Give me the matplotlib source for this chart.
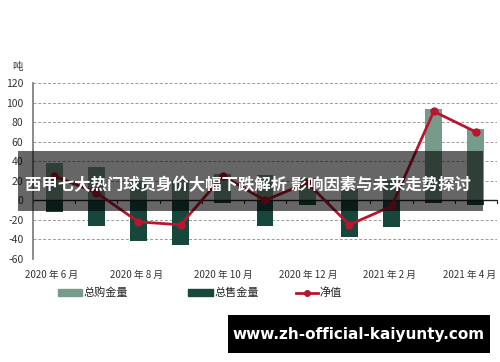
import matplotlib
matplotlib.use("Agg")
import matplotlib.pyplot as plt
import numpy as np
from matplotlib.patches import Rectangle, Patch
from matplotlib.lines import Line2D
from matplotlib.transforms import ScaledTranslation

plt.rcParams['font.family'] = ['Noto Sans CJK SC', 'DejaVu Sans']

months = ["2020年6月", "2020年7月", "2020年8月", "2020年9月", "2020年10月", "2020年11月",
          "2020年12月", "2021年1月", "2021年2月", "2021年3月", "2021年4月"]
purchase = [38, 34, 20, 21, 27, 26, 23, 12, 21, 93, 73]
sales = [-12, -26, -42, -46, -3, -26, -5, -37, -27, -3, -5]
net = [25, 8, -22, -25, 25, 0, 18, -25, -6, 91, 70]
tick_labels = ["2020 年 6 月", "2020 年 8 月", "2020 年 10 月", "2020 年 12 月", "2021 年 2 月", "2021 年 4 月"]
yticks = [-60, -40, -20, 0, 20, 40, 60, 80, 100, 120]
legend_labels = ["总购金量", "总售金量", "净值"]

c_light = "#779b8b"
c_dark = "#17473a"
c_line = "#b8162e"

fig = plt.figure(figsize=(5, 3.62), dpi=100)
ax = fig.add_axes([0.066, 0.2845, 0.928, 0.486])
x = np.arange(len(months))
ax.bar(x, purchase, width=0.4, color=c_light, zorder=2)
ax.bar(x, sales, width=0.4, color=c_dark, zorder=2)
ax.plot(x, net, color=c_line, lw=2, marker='o', ms=5, zorder=3)

ax.set_xlim(-0.5, 10.5)
ax.set_ylim(-60, 120)
ax.set_yticks(yticks)
ax.set_yticklabels([str(v) for v in yticks], fontsize=7.5, color="#333333")
for v in yticks:
    if v != 0:
        ax.axhline(v, color="#9a9a9a", lw=0.7, ls=(0, (3, 2)), zorder=1)
ax.axhline(0, color="#222222", lw=1, zorder=2.5)
for xv in np.arange(-0.5, 10.6, 1.0):
    ax.plot([xv, xv], [0, -2.5], color="#222222", lw=0.8, zorder=2.5, clip_on=False)
ax.set_xticks([0, 2, 4, 6, 8, 10])
ax.set_xticklabels(tick_labels, fontsize=7, color="#333333")
ax.tick_params(axis='x', length=0, pad=8)
ax.tick_params(axis='y', length=0, pad=7)
offsets = [-3, -2, 0, 1, -2, -6]
for lbl, dx in zip(ax.get_xticklabels(), offsets):
    lbl.set_transform(lbl.get_transform() + ScaledTranslation(dx / 100, 0, fig.dpi_scale_trans))
for s in ['top', 'right', 'bottom']:
    ax.spines[s].set_visible(False)
ax.spines['left'].set_color("#777777")
ax.spines['left'].set_linewidth(1.2)

fig.text(0.024, 1 - 67 / 362, "吨", fontsize=7.5, color="#333333", ha='left', va='center')

handles = [Patch(color=c_light), Patch(color=c_dark),
           Line2D([0], [0], color=c_line, lw=2, marker='o', ms=4)]
lx = [58, 188, 296]
hl = [2.15, 2.25, 2.0]
for h, lab, xx, L in zip(handles, legend_labels, lx, hl):
    lg = fig.legend([h], [lab], loc='center left', bbox_to_anchor=(xx / 500, 1 - 293 / 362),
                    frameon=False, fontsize=8, handlelength=L, handleheight=0.6,
                    handletextpad=0.15, borderpad=0, borderaxespad=0)
    for t in lg.get_texts():
        t.set_color("#222222")

# overlay title band
fig.patches.append(Rectangle((18 / 500, 1 - 210.7 / 362), 465 / 500, 60 / 362, transform=fig.transFigure,
                             facecolor="black", alpha=0.6, zorder=5))
fig.text(248 / 500, 1 - 185 / 362, "西甲七大热门球员身价大幅下跌解析 影响因素与未来走势探讨", fontsize=11.8,
         fontweight='bold', color="white", ha='center', va='center', zorder=6)

# watermark box
fig.patches.append(Rectangle((228 / 500, 1 - 353 / 362), 262 / 500, 38 / 362, transform=fig.transFigure,
                             facecolor="black", zorder=5))
fig.text(359 / 500, 1 - 334 / 362, "www.zh-official-kaiyunty.com", fontsize=11, fontweight='bold',
         color="white", ha='center', va='center', family='DejaVu Sans', zorder=6)

fig.savefig("out.png", dpi=100)
